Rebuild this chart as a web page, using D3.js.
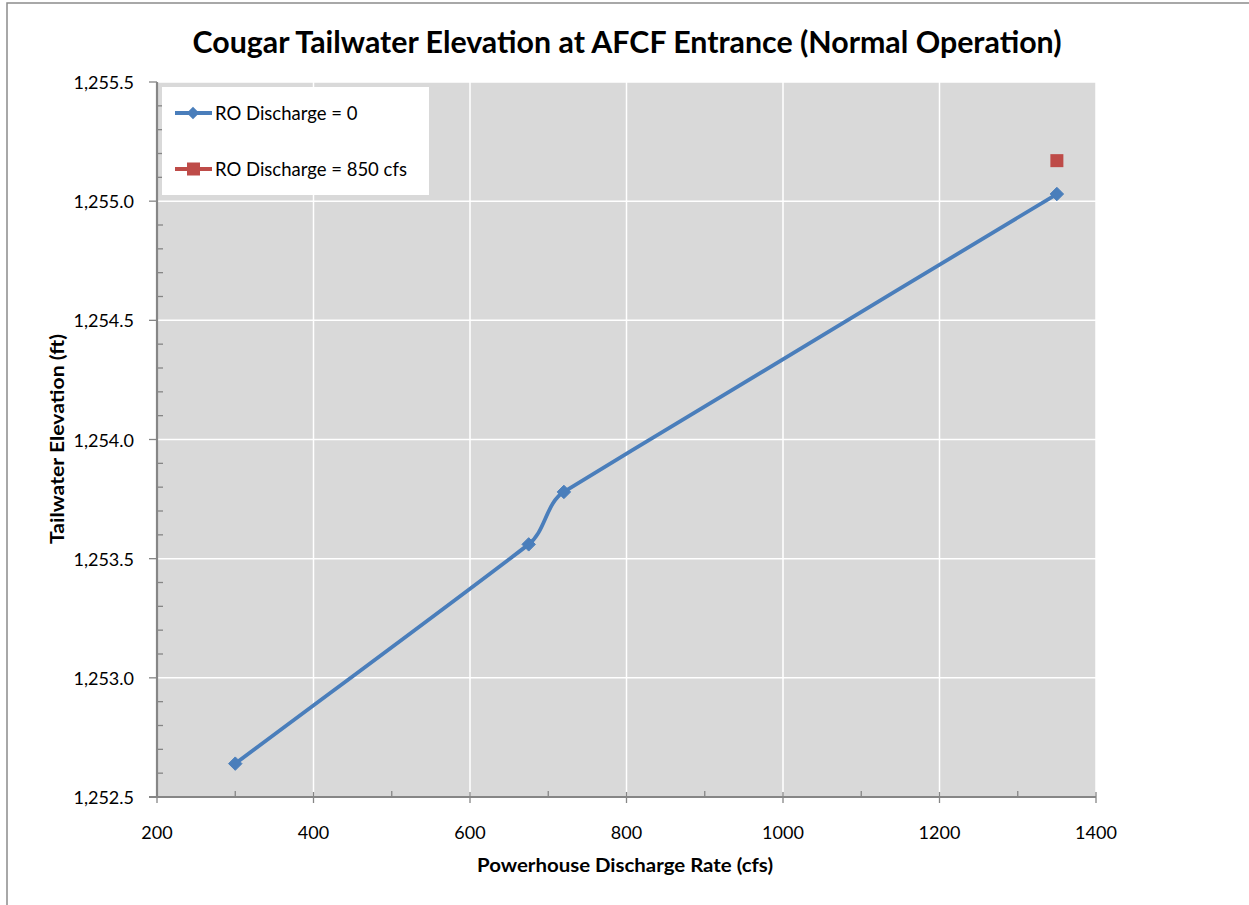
<!DOCTYPE html>
<html>
<head>
<meta charset="utf-8">
<script src="https://cdn.jsdelivr.net/npm/d3@7"></script>
<style>
  html, body { margin: 0; padding: 0; background: #fff; }
  svg { display: block; }
  text { font-family: Lato, "Open Sans", "Noto Sans", sans-serif; fill: #000; }
</style>
</head>
<body>
<svg id="chart" width="1249" height="905"></svg>
<script>
// Series: tailwater elevation vs. powerhouse discharge
const dischargeNoRO = [300, 675, 720, 1350];
const elevationNoRO = [1252.64, 1253.56, 1253.78, 1255.03];
const dischargeRO850 = [1350];
const elevationRO850 = [1255.17];

const seriesNames = ["RO Discharge = 0", "RO Discharge = 850 cfs"];
const xTicks = [200, 400, 600, 800, 1000, 1200, 1400];
const yTicks = [1252.5, 1253.0, 1253.5, 1254.0, 1254.5, 1255.0, 1255.5];

const titleText = "Cougar Tailwater Elevation at AFCF Entrance (Normal Operation)";
const xTitle = "Powerhouse Discharge Rate (cfs)";
const yTitle = "Tailwater Elevation (ft)";

const blue = "#4a7ebb", red = "#be4b48", axisGray = "#868686";

const svg = d3.select("#chart");
const plot = { left: 157, right: 1096, top: 82, bottom: 797 };

const x = d3.scaleLinear().domain([200, 1400]).range([plot.left, plot.right]);
const y = d3.scaleLinear().domain([1252.5, 1255.5]).range([plot.bottom, plot.top]);

// Smoothed line: cubic Bezier segments whose tangents lean toward the longer
// neighbouring chord, so long runs stay straight and short ones bend.
function smoothPath(pts) {
  const p = d3.path();
  const n = pts.length;
  const tangents = pts.map((pt, i) => {
    const a = pts[Math.max(0, i - 1)], b = pts[Math.min(n - 1, i + 1)];
    let tx = 0, ty = 0;
    [[a, pt], [pt, b]].forEach(([u, v]) => {
      const dx = v[0] - u[0], dy = v[1] - u[1];
      const L = Math.hypot(dx, dy);
      if (L > 0) { tx += dx * L; ty += dy * L; }
    });
    const m = Math.hypot(tx, ty) || 1;
    return [tx / m, ty / m];
  });
  p.moveTo(pts[0][0], pts[0][1]);
  for (let i = 0; i < n - 1; i++) {
    const a = pts[i], b = pts[i + 1];
    const L = Math.hypot(b[0] - a[0], b[1] - a[1]) / 3;
    p.bezierCurveTo(a[0] + tangents[i][0] * L, a[1] + tangents[i][1] * L,
                    b[0] - tangents[i + 1][0] * L, b[1] - tangents[i + 1][1] * L,
                    b[0], b[1]);
  }
  return p.toString();
}

// outer chart frame
svg.append("rect").attr("x", 7).attr("y", 3).attr("width", 1260).attr("height", 920)
  .attr("fill", "none").attr("stroke", "#8c8c8c").attr("stroke-width", 1.5);

// plot area
svg.append("rect").attr("x", plot.left).attr("y", plot.top)
  .attr("width", plot.right - plot.left).attr("height", plot.bottom - plot.top)
  .attr("fill", "#d9d9d9");

// gridlines
svg.append("g").selectAll("line").data(xTicks.slice(1)).join("line")
  .attr("x1", d => x(d)).attr("x2", d => x(d))
  .attr("y1", plot.top).attr("y2", plot.bottom)
  .attr("stroke", "#fff").attr("stroke-width", 1.5);
svg.append("g").selectAll("line").data(yTicks.slice(1)).join("line")
  .attr("x1", plot.left).attr("x2", plot.right)
  .attr("y1", d => y(d)).attr("y2", d => y(d))
  .attr("stroke", "#fff").attr("stroke-width", 1.5);

// y axis: major ticks outside, minor ticks inside
const yMinor = d3.range(1252.6, 1255.5, 0.1).filter(v => Math.abs(v * 2 - Math.round(v * 2)) > 0.01);
const yAxis = svg.append("g");
yAxis.selectAll("line.minor").data(yMinor).join("line").attr("class", "minor")
  .attr("x1", plot.left).attr("x2", plot.left + 6)
  .attr("y1", d => y(d)).attr("y2", d => y(d))
  .attr("stroke", axisGray).attr("stroke-width", 1.3);
yAxis.selectAll("line.major").data(yTicks).join("line").attr("class", "major")
  .attr("x1", plot.left - 8).attr("x2", plot.left)
  .attr("y1", d => y(d)).attr("y2", d => y(d))
  .attr("stroke", axisGray).attr("stroke-width", 1.3);
yAxis.append("line").attr("x1", plot.left).attr("x2", plot.left)
  .attr("y1", plot.top).attr("y2", plot.bottom + 1)
  .attr("stroke", axisGray).attr("stroke-width", 2.2);
const fmtY = d3.format(",.1f");
yAxis.selectAll("text").data(yTicks).join("text")
  .attr("x", 134).attr("y", d => y(d) + 7)
  .attr("text-anchor", "end").attr("font-size", 18)
  .text(d => fmtY(d));

// x axis: major ticks crossing, minor ticks inside
const xMinor = d3.range(300, 1400, 200);
const xAxis = svg.append("g");
xAxis.selectAll("line.minor").data(xMinor).join("line").attr("class", "minor")
  .attr("x1", d => x(d)).attr("x2", d => x(d))
  .attr("y1", plot.bottom - 6).attr("y2", plot.bottom)
  .attr("stroke", axisGray).attr("stroke-width", 1.3);
xAxis.selectAll("line.major").data(xTicks).join("line").attr("class", "major")
  .attr("x1", d => x(d)).attr("x2", d => x(d))
  .attr("y1", plot.bottom - 5).attr("y2", plot.bottom + 6)
  .attr("stroke", axisGray).attr("stroke-width", 1.3);
xAxis.append("line").attr("x1", plot.left - 8).attr("x2", plot.right)
  .attr("y1", plot.bottom).attr("y2", plot.bottom)
  .attr("stroke", axisGray).attr("stroke-width", 2.2);
xAxis.selectAll("text").data(xTicks).join("text")
  .attr("x", d => x(d)).attr("y", 839)
  .attr("text-anchor", "middle").attr("font-size", 18)
  .text(d => d);

// titles
svg.append("text").attr("x", 627).attr("y", 53).attr("text-anchor", "middle")
  .attr("font-size", 29.5).attr("font-weight", "bold")
  .attr("textLength", 869).attr("lengthAdjust", "spacingAndGlyphs")
  .text(titleText);
svg.append("text").attr("x", 625).attr("y", 872).attr("text-anchor", "middle")
  .attr("font-size", 18.5).attr("font-weight", "bold")
  .attr("textLength", 296).attr("lengthAdjust", "spacingAndGlyphs")
  .text(xTitle);
svg.append("text").attr("transform", "translate(64,439) rotate(-90)")
  .attr("text-anchor", "middle").attr("font-size", 18.5).attr("font-weight", "bold")
  .attr("textLength", 210).attr("lengthAdjust", "spacingAndGlyphs")
  .text(yTitle);

// series 1: smoothed line with diamond markers
const ptsA = dischargeNoRO.map((d, i) => [x(d), y(elevationNoRO[i])]);
svg.append("path").attr("d", smoothPath(ptsA))
  .attr("fill", "none").attr("stroke", blue).attr("stroke-width", 3.8)
  .attr("stroke-linejoin", "round");
const diamond = d3.symbol().type(d3.symbolDiamond2).size(115);
svg.append("g").selectAll("path").data(ptsA).join("path")
  .attr("transform", d => `translate(${d[0]},${d[1]})`)
  .attr("d", diamond).attr("fill", blue).attr("stroke", blue).attr("stroke-width", 1);

// series 2: single square marker
svg.append("g").selectAll("rect").data(dischargeRO850).join("rect")
  .attr("x", (d) => x(d) - 6.5).attr("y", (d, i) => y(elevationRO850[i]) - 6.5)
  .attr("width", 13).attr("height", 13).attr("fill", red);

// legend
const leg = svg.append("g");
leg.append("rect").attr("x", 162).attr("y", 87).attr("width", 267).attr("height", 108).attr("fill", "#fff");
const legY = [113, 169];
seriesNames.forEach((name, i) => {
  const col = i === 0 ? blue : red;
  leg.append("line").attr("x1", 175).attr("x2", 212).attr("y1", legY[i]).attr("y2", legY[i])
    .attr("stroke", col).attr("stroke-width", 3.8);
  if (i === 0) {
    leg.append("path").attr("transform", `translate(193,${legY[i]})`)
      .attr("d", d3.symbol().type(d3.symbolDiamond2).size(100)).attr("fill", col);
  } else {
    leg.append("rect").attr("x", 187).attr("y", legY[i] - 6.5).attr("width", 13).attr("height", 13).attr("fill", col);
  }
  leg.append("text").attr("x", 215).attr("y", legY[i] + 7).attr("font-size", 18.5).text(name);
});
</script>
</body>
</html>
